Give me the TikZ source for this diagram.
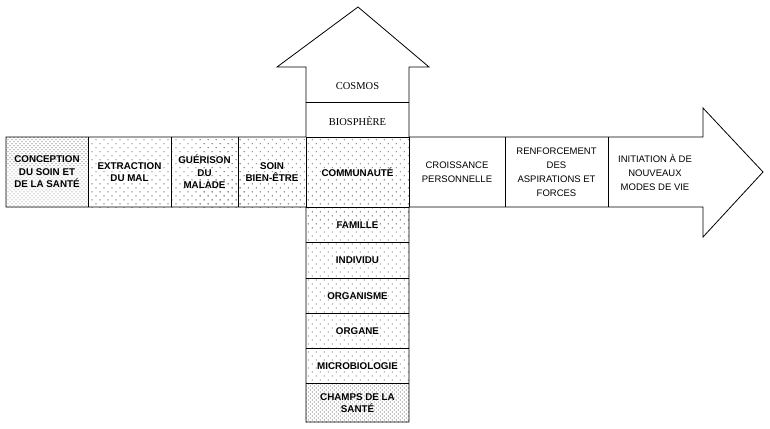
\documentclass[tikz,border=0pt]{standalone}
\usepackage{fontspec}
\setmainfont{Liberation Serif}
\setsansfont{Liberation Sans}
\usetikzlibrary{patterns.meta}

\tikzset{
  sparsefill/.style={pattern={Dots[distance=5.66pt,angle=45,radius=0.55pt]}},
  densefill/.style={pattern={Dots[distance=2.83pt,angle=45,radius=0.5pt]}},
  boldlbl/.style={font=\sffamily\bfseries\fontsize{9.8}{12.5}\selectfont, align=center, inner sep=0pt},
  plainlbl/.style={font=\sffamily\fontsize{9.5}{14}\selectfont, align=center, inner sep=0pt},
  seriflbl/.style={font=\rmfamily\fontsize{10.5}{12}\selectfont, inner sep=0pt},
}

\begin{document}
\begin{tikzpicture}[x=1pt,y=-1pt,line width=0.8pt]
  \useasboundingbox (0,0) rectangle (770,428);
  % shaded cells
  \fill[densefill] (6,137) rectangle (88,207);
  \fill[sparsefill] (88,137) rectangle (306,207);
  \fill[sparsefill] (306,137) rectangle (409,383);
  \fill[densefill] (306,383) rectangle (409,422);
  % outline of the cross
  \draw[line join=miter] (6,137) -- (306,137) -- (306,67) -- (277,67) -- (358,7)
    -- (429,67) -- (409,67) -- (409,137) -- (703,137) -- (703,108) -- (763,172)
    -- (703,237) -- (703,207) -- (409,207) -- (409,422) -- (306,422) -- (306,207)
    -- (6,207) -- cycle;
  % cell borders
  \foreach \x in {88,171,238,306,409,505,608}
    \draw (\x,137) -- (\x,207);
  \foreach \y in {102,137,207,242,278,313,348,383}
    \draw (306,\y) -- (409,\y);
  % labels
  \node[seriflbl] (cosmos) at (357.5,86) {COSMOS};
  \node[seriflbl] (bio) at (357.5,121) {BIOSPHÈRE};
  \node[boldlbl] (concept) at (47,172) {CONCEPTION\\DU SOIN ET\\DE LA SANTÉ};
  \node[boldlbl] (extract) at (129.5,172) {EXTRACTION\\DU MAL};
  \node[boldlbl] (guerison) at (204.5,172) {GUÉRISON\\DU\\MALADE};
  \node[boldlbl] (soin) at (272,172) {SOIN\\BIEN-ÊTRE};
  \node[boldlbl] (commu) at (357.5,172) {COMMUNAUTÉ};
  \node[plainlbl] (croiss) at (457,172) {CROISSANCE\\PERSONNELLE};
  \node[plainlbl] (renfo) at (556.5,172) {RENFORCEMENT\\DES\\ASPIRATIONS ET\\FORCES};
  \node[plainlbl] (init) at (655,172) {INITIATION À DE\\NOUVEAUX\\MODES DE VIE};
  \node[boldlbl] (famille) at (357.5,225) {FAMILLE};
  \node[boldlbl] (indiv) at (357.5,260) {INDIVIDU};
  \node[boldlbl] (organisme) at (357.5,296) {ORGANISME};
  \node[boldlbl] (organe) at (357.5,331) {ORGANE};
  \node[boldlbl] (micro) at (357.5,366) {MICROBIOLOGIE};
  \node[boldlbl] (champs) at (357.5,403) {CHAMPS DE LA\\SANTÉ};
\end{tikzpicture}
\end{document}
